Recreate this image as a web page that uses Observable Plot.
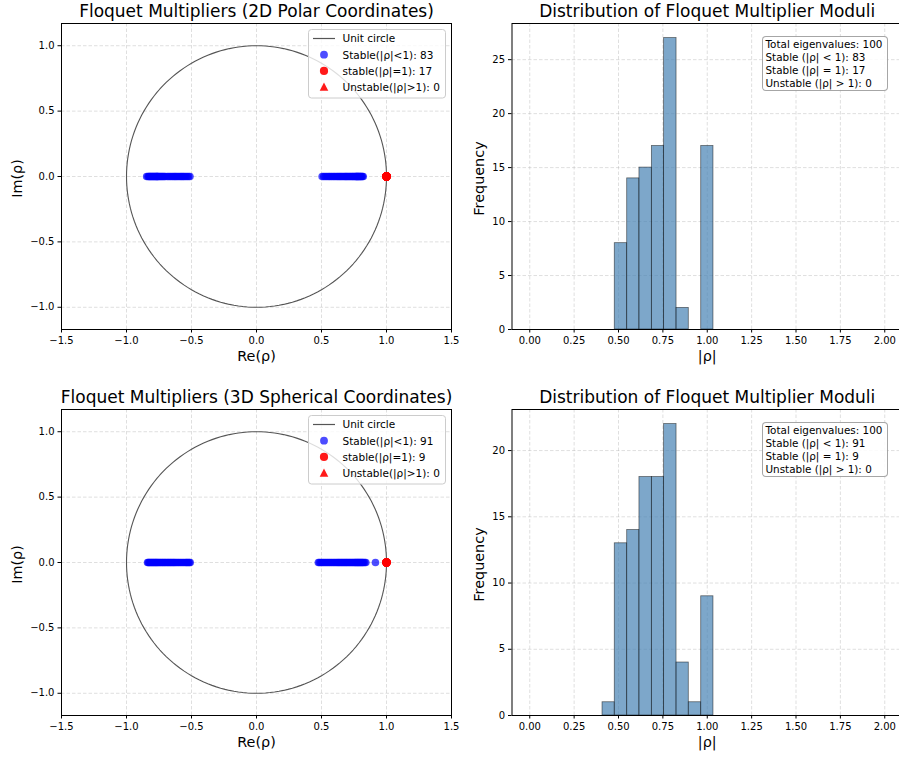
<!DOCTYPE html>
<html><head><meta charset="utf-8">
<script src="https://cdn.jsdelivr.net/npm/d3@7"></script>
<script src="https://cdn.jsdelivr.net/npm/@observablehq/plot@0.6"></script>
<style>
html,body{margin:0;padding:0;background:#fff;overflow:hidden}
#fig{position:relative;width:899px;height:757px;overflow:hidden;font-family:"DejaVu Sans",sans-serif;background:#fff}
.panel{position:absolute}
.legend{position:absolute;overflow:visible}
.infobox{position:absolute;box-sizing:border-box;border:1px solid rgba(0,0,0,0.35);border-radius:4px;background:rgba(255,255,255,0.85);font-size:10.4px;line-height:13px;padding:1px 3px;color:#000;white-space:nowrap}
</style></head><body><div id="fig"></div><script>
// ---------- data ----------
const panelTitles = ["Floquet Multipliers (2D Polar Coordinates)", "Floquet Multipliers (3D Spherical Coordinates)"];
const histTitle = "Distribution of Floquet Multiplier Moduli";

// Real parts of multipliers (all lie on the real axis, Im = 0)
const stable2D = [-0.845,-0.835,-0.828,-0.823,-0.818,-0.812,-0.806,-0.801,-0.795,-0.789,-0.784,-0.778,-0.773,-0.768,-0.764,-0.761,
  -0.755,-0.748,-0.741,-0.733,-0.726,-0.718,-0.710,-0.702,-0.687,-0.676,-0.665,-0.654,-0.643,-0.633,-0.624,
  -0.615,-0.604,-0.593,-0.583,-0.574,-0.565,-0.556,-0.545,-0.534,-0.523,-0.512,
  0.505,0.517,0.529,0.541,0.553,0.563,0.574,0.585,0.596,0.606,0.617,0.626,0.635,0.644,0.653,0.662,0.672,0.681,0.688,
  0.695,0.703,0.711,0.719,0.727,0.735,0.742,0.749,0.756,0.763,0.767,0.771,0.775,0.779,0.784,0.788,0.793,0.798,0.803,0.808,0.814,0.821];
const unit2D = [1,1,1,1,1,1,1,1,1,1,1,1,1,1,1,1,1];
const stable3D = [-0.838,-0.832,-0.826,-0.820,-0.813,-0.807,-0.800,-0.794,-0.788,-0.781,-0.775,-0.769,-0.763,
  -0.756,-0.749,-0.741,-0.734,-0.726,-0.719,-0.711,-0.704,-0.696,-0.687,-0.680,-0.672,-0.664,-0.657,-0.649,-0.641,-0.634,-0.626,
  -0.617,-0.607,-0.598,-0.588,-0.578,-0.568,-0.558,-0.547,-0.540,-0.532,-0.525,-0.517,-0.510,
  0.476,0.484,0.494,0.504,0.514,0.524,0.534,0.544,0.554,0.564,0.574,0.584,0.594,0.604,0.614,
  0.623,0.631,0.639,0.647,0.655,0.663,0.671,0.679,0.687,0.694,0.702,0.710,0.718,0.726,0.734,0.742,0.750,0.757,
  0.763,0.769,0.775,0.781,0.787,0.793,0.799,0.805,0.811,0.817,0.823,0.832,0.841,0.915];
const unit3D = [1,1,1,1,1,1,1,1,1];
const unstableCount = [0, 0];

// Histogram of |rho|
const binEdges = [0.410, 0.479, 0.549, 0.618, 0.688, 0.757, 0.827, 0.896, 0.966, 1.035];
const counts2D = [0, 8, 14, 15, 17, 27, 2, 0, 17];
const counts3D = [1, 13, 14, 18, 18, 22, 4, 1, 9];

// Tick labels
const reTicks = [-1.5, -1.0, -0.5, 0.0, 0.5, 1.0, 1.5];
const imTicks = [-1.0, -0.5, 0.0, 0.5, 1.0];
const modTicks = [0, 0.25, 0.5, 0.75, 1.0, 1.25, 1.5, 1.75, 2.0];
const freqTicks2D = [0, 5, 10, 15, 20, 25];
const freqTicks3D = [0, 5, 10, 15, 20];

// ---------- drawing ----------
const fig = document.getElementById("fig");
const fmt1 = d3.format(".1f"), fmt2 = d3.format(".2f"), fmt0 = d3.format("d");
const gridStyle = {stroke: "#b0b0b0", strokeOpacity: 0.4, strokeDasharray: "3.5,2"};
const baseStyle = {fontFamily: "DejaVu Sans", fontSize: "10px", color: "black", background: "transparent", overflow: "visible", maxWidth: "none"};
const circleAngles = d3.range(0, 361, 2);

function place(el, left, top, w, h) {
  const d = document.createElement("div");
  d.className = "panel";
  d.style.left = left + "px"; d.style.top = top + "px";
  d.style.width = w + "px"; d.style.height = h + "px";
  d.appendChild(el);
  fig.appendChild(d);
  return d;
}

function legendSVG(entries) {
  const ns = "http://www.w3.org/2000/svg";
  const svg = document.createElementNS(ns, "svg");
  svg.setAttribute("width", 140); svg.setAttribute("height", 71);
  svg.setAttribute("class", "legend");
  svg.style.left = "308px";
  const mk = (tag, attrs) => { const e = document.createElementNS(ns, tag); for (const k in attrs) e.setAttribute(k, attrs[k]); svg.appendChild(e); return e; };
  mk("rect", {x: 0.5, y: 0.5, width: 137, height: 68.5, rx: 3, fill: "white", "fill-opacity": 0.8, stroke: "#cccccc"});
  entries.forEach((e, i) => {
    const cy = 9.5 + i * 16.2;
    if (e.type === "line") mk("line", {x1: 5, x2: 27, y1: cy, y2: cy, stroke: "#555", "stroke-width": 1.2});
    if (e.type === "dot") mk("circle", {cx: 16, cy, r: e.r, fill: e.color, "fill-opacity": e.op});
    if (e.type === "tri") mk("path", {d: `M16,${cy-4.6}L20.3,${cy+3.6}L11.7,${cy+3.6}Z`, fill: "red", "fill-opacity": 0.9});
    const t = mk("text", {x: 34.5, y: cy + 3.8, "font-size": 10.5, "font-family": "DejaVu Sans", fill: "#000"});
    t.textContent = e.label;
  });
  return svg;
}

function scatterPanel(title, stable, unit, unstable, top) {
  const svg = Plot.plot({
    width: 455, height: 375, marginLeft: 61, marginRight: 4, marginTop: 23, marginBottom: 46,
    style: baseStyle,
    x: {domain: [-1.5, 1.5]}, y: {domain: [-1.17, 1.17]},
    marks: [
      Plot.gridX(reTicks, gridStyle),
      Plot.gridY(imTicks, gridStyle),
      Plot.line(circleAngles, {x: a => Math.cos(a * Math.PI / 180), y: a => Math.sin(a * Math.PI / 180), stroke: "#555", strokeWidth: 1.1}),
      Plot.dot(stable, {x: d => d, y: 0, r: 3.8, fill: "blue", fillOpacity: 0.7, stroke: "none"}),
      Plot.dot(unit, {x: d => d, y: 0, r: 4.2, fill: "red", fillOpacity: 0.9, stroke: "none"}),
      Plot.frame({stroke: "black", strokeWidth: 1}),
      Plot.axisX(reTicks, {tickSize: 3.5, tickPadding: 3.5, tickFormat: fmt1, label: null, fontSize: 10}),
      Plot.axisY(imTicks, {tickSize: 3.5, tickPadding: 3.5, tickFormat: fmt1, label: null, fontSize: 10}),
      Plot.text([title], {text: d => d, frameAnchor: "top", dy: -6.3, lineAnchor: "bottom", textAnchor: "middle", fontSize: 17}),
      Plot.text(["Re(ρ)"], {text: d => d, frameAnchor: "bottom", dy: 31.5, lineAnchor: "bottom", textAnchor: "middle", fontSize: 14.4}),
      Plot.text(["Im(ρ)"], {text: d => d, frameAnchor: "left", dx: -44, dy: 2, rotate: -90, lineAnchor: "middle", textAnchor: "middle", fontSize: 14.4})
    ]
  });
  const p = place(svg, 0, top, 455, 375);
  const leg = legendSVG([
    {type: "line", label: "Unit circle"},
    {type: "dot", color: "blue", op: 0.7, r: 3.9, label: `Stable(|ρ|<1): ${stable.length}`},
    {type: "dot", color: "red", op: 0.9, r: 4.1, label: `stable(|ρ|=1): ${unit.length}`},
    {type: "tri", label: `Unstable(|ρ|>1): ${unstable}`}
  ]);
  leg.style.top = "28.5px";
  p.appendChild(leg);
}

function histPanel(counts, yTicks, ymax, nStable, nUnit, nUnstable, top) {
  const bins = counts.map((c, i) => ({x0: binEdges[i], x1: binEdges[i + 1], count: c})).filter(b => b.count > 0);
  const svg = Plot.plot({
    width: 452, height: 375, marginLeft: 61.5, marginRight: 0, marginTop: 23, marginBottom: 46,
    style: baseStyle,
    x: {domain: [-0.1, 2.1]}, y: {domain: [0, ymax]},
    marks: [
      Plot.gridX(modTicks, gridStyle),
      Plot.gridY(yTicks, gridStyle),
      Plot.rectY(bins, {x1: "x0", x2: "x1", y: "count", fill: "steelblue", fillOpacity: 0.7, stroke: "black", strokeOpacity: 0.55, strokeWidth: 0.8}),
      Plot.frame({stroke: "black", strokeWidth: 1}),
      Plot.axisX(modTicks, {tickSize: 3.5, tickPadding: 3.5, tickFormat: fmt2, label: null, fontSize: 10}),
      Plot.axisY(yTicks, {tickSize: 3.5, tickPadding: 3.5, tickFormat: fmt0, label: null, fontSize: 10}),
      Plot.text([histTitle], {text: d => d, frameAnchor: "top", dy: -6.3, lineAnchor: "bottom", textAnchor: "middle", fontSize: 17}),
      Plot.text(["|ρ|"], {text: d => d, frameAnchor: "bottom", dy: 31.5, lineAnchor: "bottom", textAnchor: "middle", fontSize: 14.4}),
      Plot.text(["Frequency"], {text: d => d, frameAnchor: "left", dx: -33, dy: 2, rotate: -90, lineAnchor: "middle", textAnchor: "middle", fontSize: 14.4})
    ]
  });
  const p = place(svg, 450, top, 452, 375);
  const box = document.createElement("div");
  box.className = "infobox";
  box.style.left = "311.5px"; box.style.top = "35.5px";
  box.style.width = "126px"; box.style.height = "55.5px";
  box.innerHTML = [`Total eigenvalues: ${nStable + nUnit + nUnstable}`, `Stable (|ρ| &lt; 1): ${nStable}`,
    `Stable (|ρ| = 1): ${nUnit}`, `Unstable (|ρ| &gt; 1): ${nUnstable}`].join("<br>");
  p.appendChild(box);
}

scatterPanel(panelTitles[0], stable2D, unit2D, unstableCount[0], 0);
scatterPanel(panelTitles[1], stable3D, unit3D, unstableCount[1], 386);
histPanel(counts2D, freqTicks2D, 28.35, stable2D.length, unit2D.length, unstableCount[0], 0);
histPanel(counts3D, freqTicks3D, 23.1, stable3D.length, unit3D.length, unstableCount[1], 386);
</script></body></html>
